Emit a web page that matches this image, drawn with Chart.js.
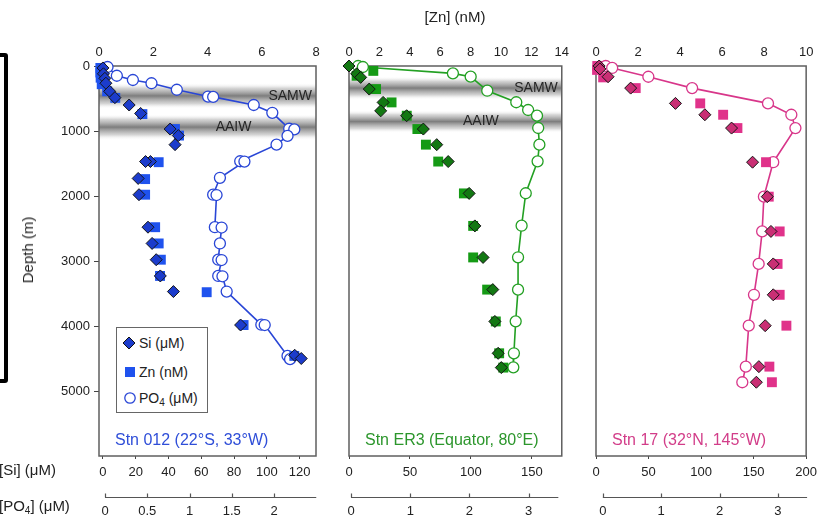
<!DOCTYPE html>
<html>
<head>
<meta charset="utf-8">
<script src="https://cdn.jsdelivr.net/npm/chart.js@4.4.1/dist/chart.umd.min.js"></script>
<style>
  body { margin: 0; background: #fff; font-family: "Liberation Sans", Arial, Helvetica, sans-serif; color: #222; }
  #stage { position: relative; width: 823px; height: 518px; overflow: hidden; }
  canvas { position: absolute; top: 0; }
  .txt { position: absolute; font-size: 15px; line-height: 18px; white-space: nowrap; }
  .txt sub, #legend sub { font-size: 10px; vertical-align: -3px; line-height: 0; }
  #legend { position: absolute; left: 116px; top: 327px; width: 90px; height: 84px; border: 1px solid #666; background: #fff; }
  #legend .row { position: absolute; left: 22px; font-size: 14px; line-height: 16px; color: #222; white-space: nowrap; }
  #legend svg { position: absolute; }
</style>
</head>
<body>
<div id="stage">
  <div style="position:absolute;left:-20px;top:53px;width:20px;height:322px;border:4px solid #000;border-radius:3px;"></div>
  <canvas id="p1" width="330" height="518" style="left:0"></canvas>
  <canvas id="p2" width="240" height="518" style="left:335px"></canvas>
  <canvas id="p3" width="238" height="518" style="left:585px"></canvas>

  <div class="txt" style="left:395px;width:120px;text-align:center;top:8px">[Zn] (nM)</div>
  <div class="txt" style="left:28px;top:250px;transform:translate(-50%,-50%) rotate(-90deg)">Depth (m)</div>
  <div class="txt" style="left:-1px;top:461px">[Si] (μM)</div>
  <div class="txt" style="left:-1px;top:497px">[PO<sub>4</sub>] (μM)</div>

  <div id="legend">
    <svg style="left:5px;top:8px" width="14" height="14"><polygon points="7,1 13,7 7,13 1,7" fill="#1c3ccc" stroke="#111" stroke-width="1"/></svg>
    <div class="row" style="top:7px">Si (μM)</div>
    <svg style="left:8px;top:39px" width="10" height="10"><rect x="0" y="0" width="10" height="10" fill="#1f52ee"/></svg>
    <div class="row" style="top:36px">Zn (nM)</div>
    <svg style="left:6px;top:63px" width="14" height="14"><circle cx="7" cy="7" r="5.2" fill="#fff" stroke="#2946d6" stroke-width="1.3"/></svg>
    <div class="row" style="top:62px">PO<sub>4</sub> (μM)</div>
  </div>
</div>

<script>
// depth (m), value pairs
const depthTicks = [0, 1000, 2000, 3000, 4000, 5000];

// Stn 012 (22°S, 33°W)
const si012 = [[30,0],[120,0.3],[190,1.2],[265,1.8],[390,4.1],[487,7.3],[600,16],[730,23],[970,41],[1070,46],[1210,44],[1470,29],[1470,26],[1730,21.5],[1980,22],[2480,27.5],[2730,30],[2980,32.5],[3230,35],[3470,43],[3985,84],[4450,117],[4500,121]];
const zn012 = [[30,0.05],[100,0.05],[180,0.06],[280,0.1],[390,0.3],[490,0.6],[740,1.6],[970,2.8],[1070,2.95],[1480,2.2],[1740,1.7],[1980,1.7],[2480,2.07],[2730,2.2],[2980,2.28],[3230,2.25],[3480,3.97],[3985,5.33],[4460,7.2]];
const po4_012 = [[15,0.03],[150,0.14],[215,0.33],[265,0.55],[365,0.85],[470,1.22],[475,1.28],[600,1.76],[720,1.98],[965,2.18],[975,2.24],[1075,2.16],[1210,2.03],[1465,1.6],[1470,1.65],[1720,1.36],[1980,1.28],[1985,1.32],[2480,1.30],[2485,1.38],[2730,1.36],[2980,1.34],[2985,1.38],[3230,1.34],[3235,1.39],[3470,1.44],[3980,1.85],[3985,1.89],[4460,2.16],[4510,2.19]];
const bands012 = [["SAMW", 260, 660], ["AAIW", 740, 1140]];

// Stn ER3 (Equator, 80°E)
const siER3 = [[0,0],[120,6.3],[175,9.6],[355,16.6],[560,28],[690,26],[765,47.3],[970,61],[1210,72],[1470,81.4],[1960,98.6],[2460,103.3],[2945,110],[3440,118],[3930,119.7],[4420,122.4],[4640,125]];
const znER3 = [[75,1.6],[150,0.5],[355,1.78],[560,2.8],[765,3.8],[970,4.5],[1210,5.06],[1470,5.87],[1960,7.56],[2460,8.17],[2945,8.17],[3440,9.09],[3930,9.66],[4420,9.88],[4640,10.15]];
const po4ER3 = [[0,0.12],[15,0.2],[113,1.72],[164,2.02],[380,2.30],[558,2.79],[677,2.99],[764,3.14],[954,3.16],[1210,3.18],[1467,3.15],[1958,2.95],[2457,2.88],[2943,2.82],[3441,2.82],[3928,2.78],[4420,2.75],[4636,2.74]];
const bandsER3 = [["SAMW", 160, 520], ["AAIW", 680, 1030]];

// Stn 17 (32°N, 145°W)
const si17 = [[0,3],[45,3.7],[165,11.5],[340,33],[575,75.6],[750,103.6],[955,129],[1480,149],[2010,163],[2545,166.5],[3045,168.7],[3520,168.7],[3995,161],[4625,155],[4865,152.6]];
const zn17 = [[0,0.06],[60,0.05],[175,0.34],[340,1.89],[575,4.96],[750,6.05],[955,6.73],[1480,8.09],[2010,8.22],[2545,8.74],[3045,8.64],[3520,8.74],[3995,9.06],[4625,8.25],[4865,8.37]];
const po4_17 = [[0,0.05],[30,0.16],[165,0.78],[340,1.53],[575,2.83],[750,3.23],[955,3.3],[1480,2.92],[2010,2.76],[2545,2.73],[3045,2.67],[3520,2.59],[3995,2.5],[4625,2.45],[4865,2.39]];

// tick labels
const znTicks012 = [0, 2, 4, 6, 8];
const znTicksER3 = [0, 2, 4, 6, 8, 10, 12, 14];
const znTicks17 = [0, 2, 4, 6, 8, 10];
const siTicks012 = [0, 20, 40, 60, 80, 100, 120];
const siTicksER3 = [0, 50, 100, 150];
const siTicks17 = [0, 50, 100, 150, 200];
const po4Ticks012 = [0, 0.5, 1, 1.5, 2];
const po4TicksER3 = [0, 1, 2, 3];
const po4Ticks17 = [0, 1, 2, 3];

const FONT = '"Liberation Sans", Arial, Helvetica, sans-serif';
Chart.defaults.font.family = FONT;

const toXY = arr => arr.map(([d, v]) => ({ x: v, y: d }));
const setTicks = list => scale => { scale.ticks = list.map(v => ({ value: v })); };

const extras = {
  id: "extras",
  beforeDatasetsDraw(chart, args, o) {
    const { ctx, chartArea: a } = chart;
    const y = chart.scales.y;
    ctx.save();
    o.bands.forEach(([name, from, to], i) => {
      const y0 = y.getPixelForValue(from), y1 = y.getPixelForValue(to);
      const g = ctx.createLinearGradient(0, y0, 0, y1);
      g.addColorStop(0, "rgba(255,255,255,0)");
      g.addColorStop(0.2, "rgba(200,200,200,0.75)");
      g.addColorStop(0.5, "rgba(125,125,125,1)");
      g.addColorStop(0.8, "rgba(200,200,200,0.75)");
      g.addColorStop(1, "rgba(255,255,255,0)");
      ctx.fillStyle = g;
      ctx.fillRect(a.left, y0, a.right - a.left, y1 - y0);
      ctx.fillStyle = "#262626";
      ctx.font = "14px " + FONT;
      ctx.textBaseline = "middle";
      const ym = (y0 + y1) / 2;
      if (i === 0) {
        ctx.textAlign = "right";
        ctx.fillText(name, a.right - 4, ym);
      } else {
        ctx.textAlign = "center";
        ctx.fillText(name, a.left + 0.62 * (a.right - a.left), ym);
      }
    });
    ctx.strokeStyle = "#5f5f5f";
    ctx.lineWidth = 1.5;
    ctx.strokeRect(a.left, a.top, a.right - a.left, a.bottom - a.top);
    ctx.restore();
  },
  afterDraw(chart, args, o) {
    const { ctx, chartArea: a } = chart;
    const s = chart.scales.po4;
    ctx.save();
    ctx.strokeStyle = "#555";
    ctx.lineWidth = 1.2;
    const yy = s.top + 0.5;
    ctx.beginPath();
    ctx.moveTo(s.getPixelForValue(0), yy);
    ctx.lineTo(s.getPixelForValue(o.po4End), yy);
    s.ticks.forEach(t => {
      const x = Math.round(s.getPixelForValue(t.value)) + 0.5;
      ctx.moveTo(x, yy);
      ctx.lineTo(x, yy - 4);
    });
    ctx.stroke();
    ctx.fillStyle = o.color;
    ctx.font = "16px " + FONT;
    ctx.textBaseline = "middle";
    ctx.textAlign = "left";
    ctx.fillText(o.station, a.left + 16, a.bottom - 15);
    ctx.restore();
  }
};

function makePanel(id, p) {
  const tickFont = { family: FONT, size: 13 };
  const yScale = {
    type: "linear", position: "left", reverse: true, min: 0, max: 6000,
    display: p.showDepth,
    afterBuildTicks: setTicks(depthTicks),
    grid: { drawOnChartArea: false, tickLength: 5, color: "#444" },
    border: { display: false },
    ticks: { padding: 4, color: "#222", font: tickFont, callback: v => String(v) }
  };
  if (p.showDepth) yScale.afterFit = s => { s.width = 99; };

  return new Chart(document.getElementById(id), {
    type: "scatter",
    data: {
      datasets: [
        { label: "Si", data: toXY(p.si), xAxisID: "si", clip: false,
          pointStyle: "rectRot", pointRadius: 6, backgroundColor: p.diamond, borderColor: "#151515", borderWidth: 1 },
        { label: "Zn", data: toXY(p.zn), xAxisID: "zn", clip: false,
          pointStyle: "rect", pointRadius: 7, backgroundColor: p.square, borderWidth: 0 },
        { label: "PO4", data: toXY(p.po4), xAxisID: "po4", clip: false, showLine: true,
          borderColor: p.line, borderWidth: 1.6, pointRadius: 5.5, pointBackgroundColor: "#fff",
          pointBorderColor: p.line, pointBorderWidth: 1.3 }
      ]
    },
    options: {
      responsive: false,
      animation: false,
      events: [],
      layout: { padding: p.pad },
      plugins: {
        legend: { display: false },
        tooltip: { enabled: false },
        extras: { bands: p.bands, station: p.station, color: p.text, po4End: p.po4End }
      },
      scales: {
        y: yScale,
        zn: {
          type: "linear", position: "top", min: 0, max: p.znMax,
          afterBuildTicks: setTicks(p.znTicks),
          afterFit: s => { s.height = 66; },
          grid: { display: false, drawTicks: false },
          border: { display: false },
          ticks: { padding: 6, color: "#222", font: tickFont, maxRotation: 0, autoSkip: false, callback: v => String(v) }
        },
        si: {
          type: "linear", position: "bottom", weight: 0, min: p.siMin, max: p.siMax,
          afterBuildTicks: setTicks(p.siTicks),
          afterFit: s => { s.height = 41; },
          grid: { drawOnChartArea: false, tickLength: 3, color: "#444" },
          border: { display: false },
          ticks: { padding: 6, color: "#222", font: tickFont, maxRotation: 0, autoSkip: false, callback: v => String(v) }
        },
        po4: {
          type: "linear", position: "bottom", weight: 1, min: p.po4Min, max: p.po4Max,
          afterBuildTicks: setTicks(p.po4Ticks),
          afterFit: s => { s.height = 21; },
          grid: { display: false, drawTicks: false },
          border: { display: false },
          ticks: { padding: 7, color: "#222", font: tickFont, maxRotation: 0, autoSkip: false, callback: v => String(v) }
        }
      }
    },
    plugins: [extras]
  });
}

makePanel("p1", {
  si: si012, zn: zn012, po4: po4_012, bands: bands012, showDepth: true,
  pad: { left: 0, right: 14, top: 0, bottom: 0 },
  znMax: 8, znTicks: znTicks012,
  siMin: -2.4, siMax: 130, siTicks: siTicks012,
  po4Min: -0.071, po4Max: 2.497, po4Ticks: po4Ticks012, po4End: 2.5,
  station: "Stn 012 (22°S, 33°W)",
  line: "#2946d6", square: "#1f52ee", diamond: "#1c3ccc", text: "#2f4ed8"
});

makePanel("p2", {
  si: siER3, zn: znER3, po4: po4ER3, bands: bandsER3, showDepth: false,
  pad: { left: 14, right: 13, top: 0, bottom: 0 },
  znMax: 14, znTicks: znTicksER3,
  siMin: 0, siMax: 174.6, siTicks: siTicksER3,
  po4Min: -0.034, po4Max: 3.558, po4Ticks: po4TicksER3, po4End: 3.5,
  station: "Stn ER3 (Equator, 80°E)",
  line: "#23a023", square: "#159a15", diamond: "#137813", text: "#2c962c"
});

makePanel("p3", {
  si: si17, zn: zn17, po4: po4_17, bands: [], showDepth: false,
  pad: { left: 11, right: 12, top: 0, bottom: 0 },
  znMax: 10, znTicks: znTicks17,
  siMin: 0, siMax: 200, siTicks: siTicks17,
  po4Min: -0.117, po4Max: 3.484, po4Ticks: po4Ticks17, po4End: 3.5,
  station: "Stn 17 (32°N, 145°W)",
  line: "#d8368a", square: "#e0328a", diamond: "#c92f74", text: "#d23d89"
});
</script>
</body>
</html>
